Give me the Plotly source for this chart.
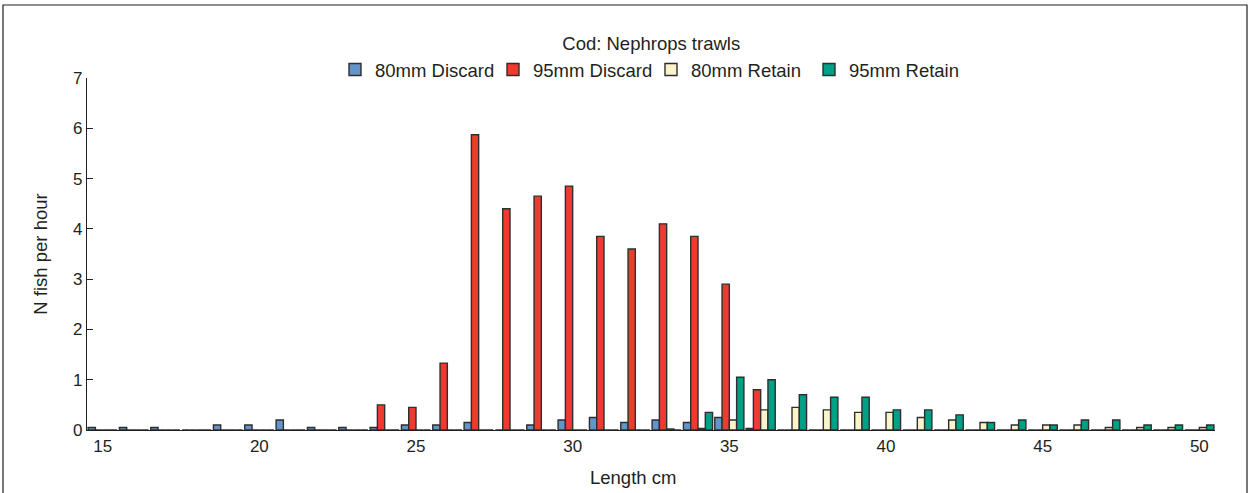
import plotly.graph_objects as go

# Length classes (cm)
lengths = list(range(15, 51))

# Catch rates, N fish per hour, by length class
discard_80 = [0.05, 0.05, 0.05, 0, 0.1, 0.1, 0.2, 0.05, 0.05, 0.05,
              0.1, 0.1, 0.15, 0, 0.1, 0.2, 0.25, 0.15, 0.2, 0.15,
              0.25, 0.03, 0, 0, 0, 0, 0, 0, 0, 0,
              0, 0, 0, 0, 0, 0]
discard_95 = [0, 0, 0, 0, 0, 0, 0, 0, 0, 0.5,
              0.45, 1.33, 5.87, 4.4, 4.65, 4.85, 3.85, 3.6, 4.1, 3.85,
              2.9, 0.8, 0, 0, 0, 0, 0, 0, 0, 0,
              0, 0, 0, 0, 0, 0]
retain_80 = [0, 0, 0, 0, 0, 0, 0, 0, 0, 0,
             0, 0, 0, 0, 0, 0, 0, 0, 0.02, 0.03,
             0.2, 0.4, 0.45, 0.4, 0.35, 0.35, 0.25, 0.2, 0.15, 0.1,
             0.1, 0.1, 0.05, 0.05, 0.05, 0.05]
retain_95 = [0, 0, 0, 0, 0, 0, 0, 0, 0, 0,
             0, 0, 0, 0, 0, 0, 0, 0, 0, 0.35,
             1.05, 1.0, 0.7, 0.65, 0.65, 0.4, 0.4, 0.3, 0.15, 0.2,
             0.1, 0.2, 0.2, 0.1, 0.1, 0.1]

series = [
    ("80mm Discard", discard_80, "#6395cb"),
    ("95mm Discard", discard_95, "#ee3b30"),
    ("80mm Retain", retain_80, "#fbf4cb"),
    ("95mm Retain", retain_95, "#00a086"),
]

FONT = "Liberation Sans, Arial, sans-serif"
INK = "#231f20"

fig = go.Figure()
for name, vals, color in series:
    fig.add_trace(go.Bar(
        x=lengths, y=vals, name=name,
        marker=dict(color=color, line=dict(color="#2e2e2e", width=1.4)),
    ))

fig.update_layout(
    width=1250, height=493,
    margin=dict(l=87, r=35, t=78, b=63),
    paper_bgcolor="white", plot_bgcolor="white",
    font=dict(family=FONT, size=18, color=INK),
    barmode="group", bargap=0.07, bargroupgap=0,
    title=dict(text="Cod: Nephrops trawls", x=0.521, xanchor="center",
               y=1 - 44 / 493, yanchor="middle",
               font=dict(family=FONT, size=18.5, color=INK)),
    legend=dict(orientation="h", x=0.5, xanchor="center",
                y=1.023, yanchor="middle",
                entrywidth=113, entrywidthmode="pixels",
                font=dict(family=FONT, size=18.5, color=INK),
                bgcolor="rgba(0,0,0,0)"),
    showlegend=True,
)

fig.update_xaxes(
    range=[14.5, 50.5], tick0=15, dtick=5, tickmode="linear",
    showline=True, linecolor=INK, linewidth=1.2,
    ticks="", showgrid=False, zeroline=False,
    tickfont=dict(family=FONT, size=17, color=INK),
)
fig.update_yaxes(
    range=[0, 7], tick0=0, dtick=1, tickmode="linear",
    showline=True, linecolor=INK, linewidth=1.2,
    ticks="inside", ticklen=6, tickcolor=INK, tickwidth=1.2,
    showgrid=False, zeroline=False,
    tickfont=dict(family=FONT, size=17, color=INK),
    title=dict(text="N fish per hour", standoff=20,
               font=dict(family=FONT, size=18.5, color=INK)),
)

# x-axis title, set slightly left of the plot centre
fig.add_annotation(text="Length cm", xref="paper", yref="paper",
                   x=(633 - 87) / 1128, y=-48 / 352,
                   xanchor="center", yanchor="middle", showarrow=False,
                   font=dict(family=FONT, size=18.5, color=INK))

# Outer frame around the whole figure
pw, ph = 1250 - 87 - 35, 493 - 78 - 63
fig.add_shape(type="rect", xref="paper", yref="paper",
              x0=(3 - 87) / pw, x1=(1247 - 87) / pw,
              y0=(430 - 500) / ph, y1=(430 - 5) / ph,
              line=dict(color=INK, width=1.2), fillcolor="rgba(0,0,0,0)",
              layer="below")

fig.write_html("out.html")
